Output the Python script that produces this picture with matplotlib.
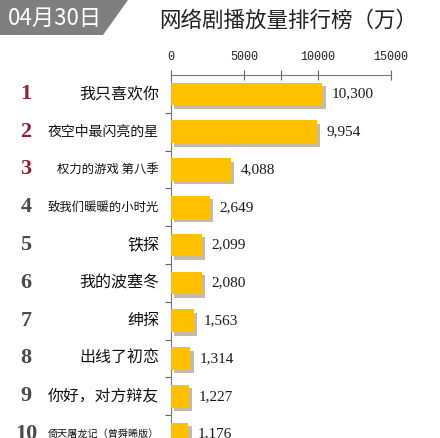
import matplotlib.pyplot as plt
import matplotlib.patheffects as pe
from matplotlib.patches import Polygon
from matplotlib.ticker import FixedLocator

plt.rcParams['font.family'] = ['Noto Sans CJK SC', 'DejaVu Sans']

# data
ranks = ["1", "2", "3", "4", "5", "6", "7", "8", "9", "10"]
shows = ["我只喜欢你", "夜空中最闪亮的星", "权力的游戏 第八季", "致我们暖暖的小时光",
         "铁探", "我的波塞冬", "绅探", "出线了初恋", "你好，对方辩友",
         "倚天屠龙记（曾舜晞版）"]
views = [10300, 9954, 4088, 2649, 2099, 2080, 1563, 1314, 1227, 1176]
xticks = [0, 5000, 10000, 15000]
title = "网络剧播放量排行榜（万）"
date = "04月30日"

W, H = 440, 438
fig = plt.figure(figsize=(W / 100, H / 100), dpi=100)
fig.patch.set_facecolor("white")

# axes: x 171..391 px, top spine at y=75px, rows 37.8px each
row_h = 37.8
top = 75
ax_h = row_h * len(shows)
ax = fig.add_axes([171 / W, 1 - (top + ax_h) / H, 220 / W, ax_h / H])

ypos = list(range(len(shows)))
bars = ax.barh(ypos, views, height=0.6, color="#FFC000", zorder=3)
for b in bars:
    b.set_path_effects([pe.SimplePatchShadow(offset=(2.5, -2.5), shadow_rgbFace="#8a7a55", alpha=0.5),
                        pe.Normal()])

ax.set_xlim(0, 15000)
ax.set_ylim(len(shows) - 0.5, -0.5)

# top axis
ax.xaxis.tick_top()
ax.set_xticks(xticks)
ax.xaxis.set_minor_locator(FixedLocator([7500]))
ax.tick_params(axis="x", which="both", direction="inout", length=7, width=0.8,
               color="#666666", pad=5, labelsize=8.5, labelcolor="#222222")
for lab in ax.get_xticklabels():
    lab.set_family("Liberation Mono")

# left axis: ticks at row boundaries
ax.set_yticks([i + 0.5 for i in ypos])
ax.set_yticklabels([])
ax.tick_params(axis="y", direction="out", length=4, width=0.8, color="#666666")

for s in ["right", "bottom"]:
    ax.spines[s].set_visible(False)
for s in ["top", "left"]:
    ax.spines[s].set_color("#777777")
    ax.spines[s].set_linewidth(0.8)

# labels
for i, (r, name, v) in enumerate(zip(ranks, shows, views)):
    ax.annotate(f"{v:,}", (v, i), xytext=(7, 0), textcoords="offset points",
                va="center", ha="left", fontsize=11, family="Liberation Serif",
                color="#1a1a1a")
    fs = min(11.5, 80 / len(name))
    ax.annotate(name, (0, i), xycoords=("axes fraction", "data"), xytext=(-12, 0),
                textcoords="offset pixels", ha="right", va="center",
                fontsize=fs, color="#111111")
    ax.annotate(r, (0, i), xycoords=("figure pixels", "data"), xytext=(26, 0),
                textcoords="offset pixels", ha="center", va="center",
                fontsize=16, fontweight="bold", family="Liberation Serif",
                color="#8e2233" if i < 3 else "#4a4a4a")

# header
fig.patches.append(Polygon([(0, 1), (128 / W, 1), (103 / W, 1 - 35 / H), (0, 1 - 35 / H)],
                           closed=True, transform=fig.transFigure, facecolor="#7f7f7f",
                           edgecolor="none"))
fig.text(55 / W, 1 - 18 / H, date, color="white", fontsize=16,
         ha="center", va="center")
fig.text(288 / W, 1 - 21 / H, title, color="#222222", fontsize=15.5,
         ha="center", va="center")

fig.savefig("out.png", dpi=100)
